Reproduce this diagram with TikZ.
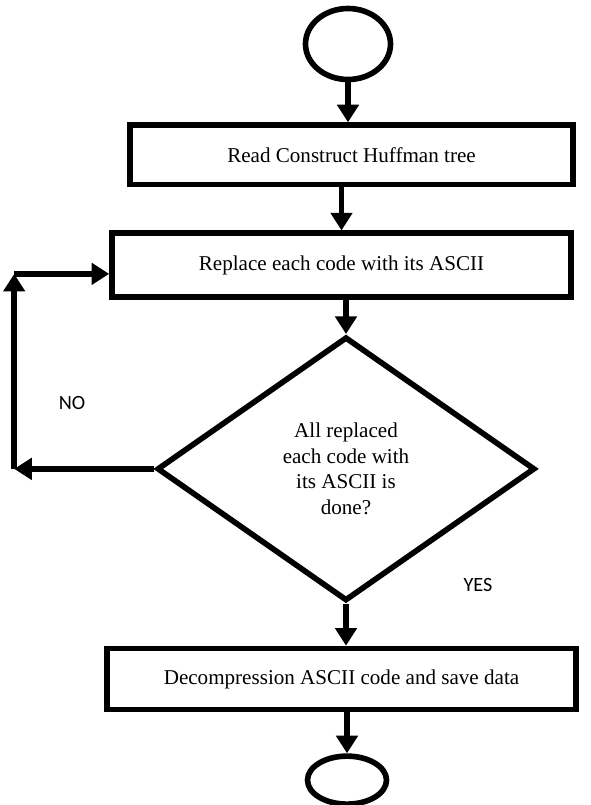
\documentclass[tikz,border=0pt]{standalone}
\usepackage{fontspec}
\setmainfont{Liberation Serif}
\newfontfamily\labelfont{Carlito}
\usetikzlibrary{positioning,calc,shapes,arrows.meta}
\tikzstyle{terminal}=[draw,ellipse,line width=3.2pt,inner sep=0pt]
\tikzstyle{process}=[draw,rectangle,line width=3.2pt,font=\fontsize{12}{14}\selectfont]
\tikzstyle{decision}=[draw,diamond,line width=3.2pt,inner sep=0pt,align=center,font=\fontsize{12}{14.5}\selectfont]
\tikzstyle{arr}=[line width=3.2pt,-{Triangle[width=12pt,length=10pt]}]
\tikzstyle{tag}=[font=\labelfont\fontsize{11.5}{13}\selectfont]

\begin{document}
\begin{tikzpicture}
      \useasboundingbox (0,0) rectangle (11.8,-16.1);
      \node (start) [terminal,minimum width=1.7cm,minimum height=1.42cm] at (6.96,-0.88) {};
      \node (read) [process,minimum width=8.86cm,minimum height=1.19cm,below=0.8cm of start,xshift=0.07cm] {Read Construct Huffman tree};
      \node (replace) [process,minimum width=9.18cm,minimum height=1.28cm,below=0.86cm of read,xshift=-0.2cm] {Replace each code with its ASCII};
      \node (check) [decision,minimum width=7.56cm,minimum height=5.28cm,below=0.68cm of replace,xshift=0.09cm] {All replaced\\each code with\\its ASCII is\\done?};
      \node (decomp) [process,minimum width=9.38cm,minimum height=1.22cm,below=0.84cm of check,xshift=-0.09cm] {Decompression ASCII code and save data};
      \node (stop) [terminal,minimum width=1.58cm,minimum height=0.96cm,below=0.82cm of decomp,xshift=0.11cm] {};

      \coordinate[left=2.8cm of check.west] (c1);
      \coordinate[above=3.9cm of c1] (c2);

      \node (no) [tag] at (1.44,-8.06) {NO};
      \node (yes) [tag] at (9.56,-11.7) {YES};

      \draw[arr] (start.south) -- (start.south |- read.north);
      \draw[arr] (read.south -| replace.north) -- (replace.north);
      \draw[arr] (check.north |- replace.south) -- (check.north);
      \draw[arr] (check.south) -- (check.south |- decomp.north);
      \draw[arr] (decomp.south -| stop.north) -- (stop.north);
      \draw[arr] (check.west) -- (c1);
      \draw[arr] (c1) -- (c2);
      \draw[arr] (c2) -- (c2 -| replace.west);
    \end{tikzpicture}
\end{document}
